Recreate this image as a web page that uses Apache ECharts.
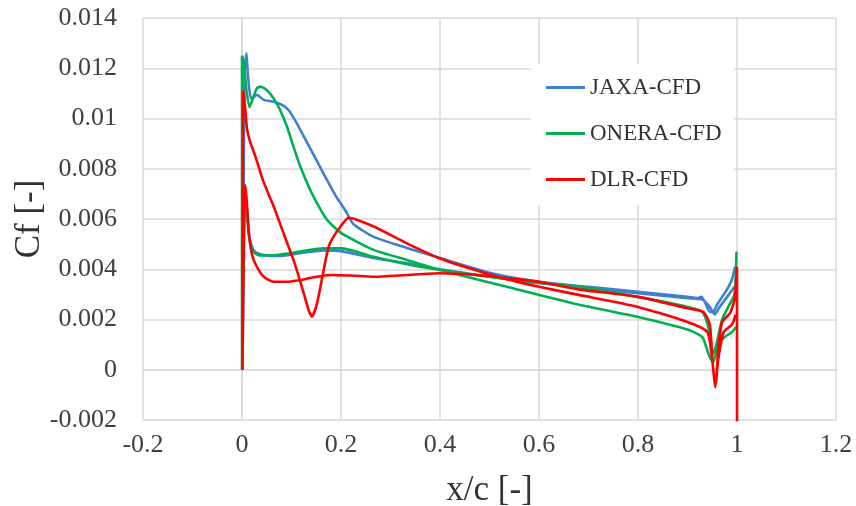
<!DOCTYPE html>
<html>
<head>
<meta charset="utf-8">
<script src="https://cdn.jsdelivr.net/npm/echarts@6/dist/echarts.min.js"></script>
<style>html,body{margin:0;padding:0;background:#fff}#c{width:856px;height:506px}</style>
</head>
<body>
<div id="c"></div>
<script>
// Series names
const seriesNames = ['JAXA-CFD', 'ONERA-CFD', 'DLR-CFD'];
const seriesColors = ['#3f7fcf', '#00b050', '#ff0000'];

// Axis ticks
const xTicks = [-0.2, 0, 0.2, 0.4, 0.6, 0.8, 1, 1.2];
const yTicks = [-0.002, 0, 0.002, 0.004, 0.006, 0.008, 0.01, 0.012, 0.014];

// JAXA-CFD: branch with the high leading-edge peak, then the other branch ([x/c, Cf])
const jaxaHigh = [[0.001,0.0],[0.005,0.0118],[0.009,0.0126],[0.012,0.0117],[0.018,0.0108],[0.024,0.01085],[0.030,0.01094],[0.044,0.01074],[0.064,0.01067],[0.081,0.01054],[0.094,0.01034],[0.111,0.0098],[0.138,0.0088],[0.165,0.0078],[0.19,0.0069],[0.21,0.0063],[0.225,0.0058],[0.265,0.0053],[0.333,0.00485],[0.4,0.00445],[0.5,0.00386],[0.6,0.0035],[0.7,0.0033],[0.8,0.0031],[0.9,0.0029],[0.92,0.00285],[0.928,0.0029],[0.935,0.0027],[0.945,0.0023],[0.952,0.0023],[0.96,0.0026],[0.97,0.0029],[0.98,0.0032],[0.99,0.0036],[0.996,0.0041]];
const jaxaLow = [[0.002,0.0],[0.005,0.0062],[0.008,0.0068],[0.011,0.0062],[0.015,0.0053],[0.022,0.0048],[0.03,0.00465],[0.05,0.00455],[0.077,0.00453],[0.12,0.00465],[0.165,0.00475],[0.2,0.00472],[0.266,0.00445],[0.333,0.00424],[0.4,0.004],[0.5,0.0037],[0.6,0.00345],[0.7,0.00325],[0.8,0.00305],[0.9,0.00285],[0.93,0.0028],[0.945,0.0025],[0.955,0.0022],[0.965,0.0025],[0.98,0.0029],[0.995,0.0033]];

// ONERA-CFD
const oneraHigh = [[0.0,0.0],[0.0,0.0125],[0.004,0.0122],[0.008,0.0113],[0.015,0.01045],[0.022,0.0108],[0.03,0.0112],[0.037,0.01127],[0.05,0.01113],[0.064,0.0108],[0.077,0.01034],[0.091,0.00967],[0.104,0.00888],[0.118,0.00808],[0.138,0.00715],[0.158,0.0064],[0.172,0.00596],[0.2,0.00545],[0.266,0.00477],[0.333,0.00437],[0.4,0.00397],[0.535,0.0033],[0.67,0.00264],[0.8,0.0021],[0.9,0.0016],[0.93,0.0013],[0.943,0.0006],[0.952,0.0003],[0.962,0.001],[0.975,0.0013],[0.99,0.0015],[0.998,0.0017]];
const oneraLow = [[0.001,0.0],[0.004,0.0062],[0.007,0.007],[0.01,0.0062],[0.015,0.0052],[0.022,0.0047],[0.035,0.00455],[0.06,0.00455],[0.1,0.00465],[0.165,0.00483],[0.2,0.00483],[0.266,0.0045],[0.333,0.0042],[0.4,0.00397],[0.5,0.0037],[0.6,0.00345],[0.683,0.0033],[0.8,0.0029],[0.9,0.0025],[0.93,0.0023],[0.943,0.0016],[0.95,0.0006],[0.957,0.0009],[0.97,0.002],[0.985,0.0026],[0.995,0.003],[0.999,0.0047]];

// DLR-CFD
const dlrHigh = [[0.001,0.0],[0.002,0.0108],[0.003,0.0111],[0.006,0.0105],[0.01,0.0096],[0.016,0.0091],[0.025,0.0086],[0.035,0.0080],[0.044,0.00745],[0.064,0.0065],[0.084,0.00543],[0.104,0.00437],[0.121,0.0033],[0.1345,0.00238],[0.1414,0.00211],[0.1515,0.00264],[0.165,0.00397],[0.175,0.0049],[0.185,0.0053],[0.1986,0.00569],[0.2154,0.00605],[0.266,0.0057],[0.333,0.00503],[0.4,0.00443],[0.466,0.004],[0.535,0.0036],[0.6,0.0033],[0.68,0.00298],[0.8,0.0025],[0.9,0.0019],[0.94,0.0015],[0.95,0.0004],[0.956,-0.0007],[0.962,0.0004],[0.973,0.0015],[0.99,0.0018],[0.997,0.0022]];
const dlrLow = [[0.001,0.0],[0.004,0.006],[0.0067,0.00735],[0.01,0.0066],[0.013,0.0056],[0.02,0.0046],[0.03,0.0041],[0.044,0.0037],[0.064,0.0035],[0.091,0.0035],[0.118,0.00357],[0.145,0.00368],[0.178,0.00377],[0.22,0.00375],[0.266,0.0037],[0.333,0.00377],[0.4,0.00384],[0.468,0.00378],[0.535,0.00365],[0.6,0.0035],[0.68,0.0032],[0.8,0.0029],[0.9,0.00245],[0.932,0.0023],[0.945,0.0018],[0.951,0.0002],[0.957,-0.0006],[0.962,0.0008],[0.97,0.0019],[0.986,0.00225],[0.995,0.0028],[1.0,0.0041],[1.0,-0.0025]];

function loop(high, low) { return high.slice().reverse().concat(low); }
const seriesData = [loop(jaxaHigh, jaxaLow), loop(oneraHigh, oneraLow), loop(dlrHigh, dlrLow)];

const FONT = '"Liberation Serif", "Times New Roman", serif';
const chart = echarts.init(document.getElementById('c'), null, {renderer: 'canvas'});
chart.setOption({
  animation: false,
  backgroundColor: '#ffffff',
  grid: {left: 143, right: 20, top: 18, bottom: 86, containLabel: false, outerBoundsMode: 'none'},
  legend: {
    data: seriesNames.map(n => ({name: n, icon: 'rect'})),
    orient: 'vertical',
    left: 531, top: 64,
    padding: [12, 12, 14, 15],
    backgroundColor: '#ffffff',
    itemWidth: 39, itemHeight: 3, itemGap: 23,
    textStyle: {fontFamily: FONT, fontSize: 23, color: '#333333'}
  },
  xAxis: {
    type: 'value', min: xTicks[0], max: xTicks[xTicks.length-1], interval: 0.2,
    name: 'x/c [-]', nameLocation: 'middle', nameGap: 53,
    nameTextStyle: {fontFamily: FONT, fontSize: 35, color: '#333333'},
    axisLine: {show: true, lineStyle: {color: '#d9d9d9', width: 1.5}},
    axisTick: {show: false},
    axisLabel: {fontFamily: FONT, fontSize: 26, color: '#404040', margin: 12,
      formatter: v => String(+v.toFixed(1))},
    splitLine: {show: true, lineStyle: {color: '#d9d9d9', width: 1.5}}
  },
  yAxis: {
    type: 'value', min: yTicks[0], max: yTicks[yTicks.length-1], interval: 0.002,
    name: 'Cf [-]', nameLocation: 'middle', nameGap: 96, nameRotate: 90,
    nameMoveOverlap: false,
    nameTextStyle: {fontFamily: FONT, fontSize: 35, color: '#333333'},
    axisLine: {show: true, lineStyle: {color: '#d9d9d9', width: 1.5}},
    axisTick: {show: false},
    axisLabel: {fontFamily: FONT, fontSize: 26, color: '#404040', margin: 26,
      formatter: v => String(+v.toFixed(3))},
    splitLine: {show: true, lineStyle: {color: '#d9d9d9', width: 1.5}}
  },
  series: seriesNames.map((n, i) => ({
    name: n, type: 'line', data: seriesData[i], symbol: 'none', showSymbol: false,
    smooth: 0.2, clip: true,
    lineStyle: {color: seriesColors[i], width: 2.6},
    itemStyle: {color: seriesColors[i]},
    z: 2 + i
  }))
});
</script>
</body>
</html>
